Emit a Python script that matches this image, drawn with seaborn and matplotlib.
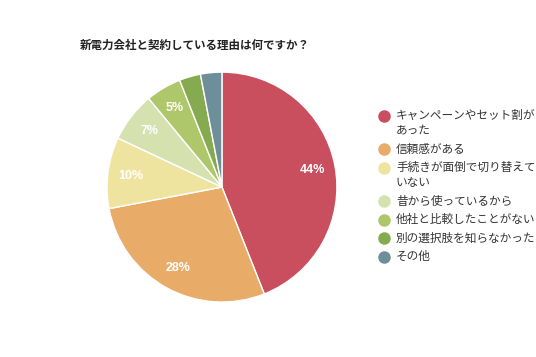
import matplotlib
matplotlib.use("Agg")
import numpy as np
import matplotlib.pyplot as plt
import seaborn as sns

# data
reasons = [
    "キャンペーンやセット割が\nあった",
    "信頼感がある",
    "手続きが面倒で切り替えて\nいない",
    "昔から使っているから",
    "他社と比較したことがない",
    "別の選択肢を知らなかった",
    "その他",
]
shares = [44, 28, 10, 7, 5, 3, 3]
pct_labels = ["44%", "28%", "10%", "7%", "5%", "", ""]
colors = ["#C94E5E", "#E8AC68", "#EEE4A0", "#D5E2B0", "#AEC76A", "#86AA50", "#6E8F99"]
title = "新電力会社と契約している理由は何ですか？"

sns.set_theme(style="white")
plt.rcParams["font.family"] = ["Noto Sans CJK JP", "DejaVu Sans"]

W, H = 536, 357
fig = plt.figure(figsize=(W / 100, H / 100), dpi=100)
ax = fig.add_axes([0.1996, 0.154, 0.429, 0.644])

wedges, _ = ax.pie(shares, colors=colors, startangle=90, counterclock=False,
                   wedgeprops=dict(edgecolor="white", linewidth=1))
# percentage labels inside the slices
for w, lab in zip(wedges, pct_labels):
    if lab:
        mid = np.deg2rad((w.theta1 + w.theta2) / 2)
        ax.text(0.8 * np.cos(mid), 0.8 * np.sin(mid), lab, color="white",
                fontsize=9, fontweight="bold", ha="center", va="center",
                family=["Liberation Sans", "DejaVu Sans"])
ax.set_xlim(-1, 1)
ax.set_ylim(-1, 1)

fig.text(80 / W, 1 - 45 / H, title, fontsize=8.3, fontweight="bold",
         ha="left", va="center", color="#222222")

# legend drawn by hand so the marker sits next to the first line
y = 115.5
for lab, c in zip(reasons, colors):
    fig.lines.append(plt.Line2D([384 / W], [1 - y / H], marker="o", markersize=8,
                                color=c, linestyle="none", transform=fig.transFigure))
    lines = lab.split("\n")
    for i, part in enumerate(lines):
        fig.text(396 / W, 1 - (y + 15 * i) / H, part, fontsize=8.4,
                 color="#333333", ha="left", va="center")
    y += 18.5 + 15 * (len(lines) - 1)

fig.savefig("out.png", dpi=100)
